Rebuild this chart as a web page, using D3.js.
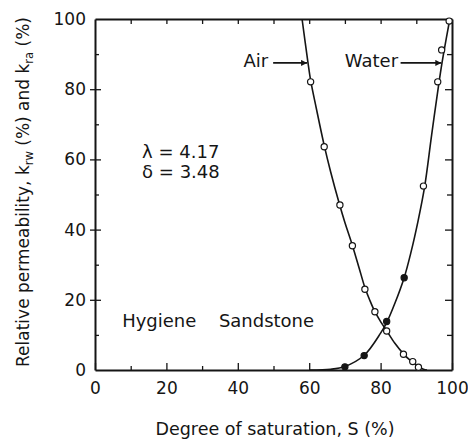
<!DOCTYPE html>
<html><head><meta charset="utf-8">
<script src="https://cdn.jsdelivr.net/npm/d3@7"></script>
<style>
html,body{margin:0;padding:0;background:#fff;}
svg{display:block;font-family:"DejaVu Sans",sans-serif;}
</style></head>
<body><svg id="c" width="468" height="441"></svg>
<script>
// ---- data ----
const xTicks = [0, 20, 40, 60, 80, 100];
const yTicks = [0, 20, 40, 60, 80, 100];
const minorTicks = [10, 30, 50, 70, 90];

// fitted curve (air, k_ra)
const airLineS = [58.0, 59.6, 60.4, 62.0, 64.2, 66.0, 68.4, 70.0, 72.1, 74.0, 75.6, 77.0, 78.4, 80.0, 81.7, 84.0, 86.4, 88.0, 89.0, 90.6, 92.0, 93.0];
const airLineK = [100, 88.0, 82.5, 74.5, 64.0, 56.5, 47.5, 42.0, 35.5, 29.0, 23.5, 19.8, 16.6, 13.8, 11.2, 7.6, 4.6, 3.0, 2.3, 1.0, 0.2, 0.0];
// fitted curve (water, k_rw)
const waterLineS = [60.0, 66.0, 70.0, 75.4, 80.0, 81.7, 84.0, 86.6, 88.5, 90.5, 92.3, 94.3, 96.3, 97.2, 98.4, 99.4];
const waterLineK = [0.0, 0.2, 1.0, 4.2, 10.5, 13.5, 19.0, 26.3, 33.5, 42.5, 52.0, 67.0, 81.5, 87.5, 94.5, 100];

// measured points
const airPtS = [60.4, 64.2, 68.6, 72.1, 75.6, 78.4, 81.7, 86.4, 89.0, 90.6];
const airPtK = [82.1, 63.6, 47.0, 35.4, 23.0, 16.6, 11.1, 4.5, 2.4, 0.8];
const waterOpenS = [92.0, 96.0, 97.1, 99.2];
const waterOpenK = [52.4, 82.1, 91.2, 99.4];
const waterFilledS = [70.0, 75.4, 81.7, 86.6];
const waterFilledK = [0.9, 4.1, 13.8, 26.3];

// ---- drawing ----
const W = 468, H = 441;
const m = {left: 95, right: 16, top: 19, bottom: 71};
const ink = "#151515";
const svg = d3.select("#c");
const x = d3.scaleLinear().domain([0, 100]).range([m.left, W - m.right]);
const y = d3.scaleLinear().domain([0, 100]).range([H - m.bottom, m.top]);

const g = svg.append("g");

function styleAxis(sel) {
  sel.selectAll("path").attr("stroke", ink).attr("stroke-width", 2);
  sel.selectAll("line").attr("stroke", ink).attr("stroke-width", 1.3);
  sel.selectAll("text").attr("fill", ink);
}

// bottom axis: frame + inward ticks
g.append("g").attr("transform", `translate(0,${y(0)})`)
  .call(d3.axisTop(x).tickValues(xTicks).tickSize(7).tickSizeOuter(0).tickFormat(""))
  .call(styleAxis);
g.append("g").attr("transform", `translate(0,${y(0)})`)
  .call(d3.axisTop(x).tickValues(minorTicks).tickSize(4).tickSizeOuter(0).tickFormat(""))
  .call(s => s.select("path").remove()).call(styleAxis);
g.append("g").attr("transform", `translate(0,${y(0)})`)
  .call(d3.axisBottom(x).tickValues(xTicks).tickSize(0).tickPadding(12))
  .call(s => s.select("path").remove())
  .call(s => s.selectAll("text").attr("font-size", 17).attr("font-family", "DejaVu Sans").attr("fill", ink));

// top axis
g.append("g").attr("transform", `translate(0,${y(100)})`)
  .call(d3.axisBottom(x).tickValues(d3.range(10, 100, 10)).tickSize(5).tickSizeOuter(0).tickFormat(""))
  .call(styleAxis);

// left axis
g.append("g").attr("transform", `translate(${x(0)},0)`)
  .call(d3.axisRight(y).tickValues(yTicks.slice(1, -1)).tickSize(6).tickSizeOuter(0).tickFormat(""))
  .call(styleAxis);
g.append("g").attr("transform", `translate(${x(0)},0)`)
  .call(d3.axisLeft(y).tickValues(yTicks.slice(1, -1)).tickSize(5).tickSizeOuter(0).tickFormat(""))
  .call(s => s.select("path").remove()).call(styleAxis);
g.append("g").attr("transform", `translate(${x(0)},0)`)
  .call(d3.axisRight(y).tickValues(minorTicks).tickSize(4).tickSizeOuter(0).tickFormat(""))
  .call(s => s.select("path").remove()).call(styleAxis);
g.append("g").attr("transform", `translate(${x(0)},0)`)
  .call(d3.axisLeft(y).tickValues(yTicks).tickSize(0).tickPadding(9))
  .call(s => s.select("path").remove())
  .call(s => s.selectAll("text").attr("font-size", 17).attr("font-family", "DejaVu Sans").attr("fill", ink));

// right axis
g.append("g").attr("transform", `translate(${x(100)},0)`)
  .call(d3.axisLeft(y).tickValues(yTicks.slice(1, -1)).tickSize(7).tickSizeOuter(0).tickFormat(""))
  .call(styleAxis);
g.append("g").attr("transform", `translate(${x(100)},0)`)
  .call(d3.axisLeft(y).tickValues(minorTicks).tickSize(5).tickSizeOuter(0).tickFormat(""))
  .call(s => s.select("path").remove()).call(styleAxis);

// curves
const line = d3.line().x(d => x(d[0])).y(d => y(d[1])).curve(d3.curveCatmullRom.alpha(0.5));
g.append("path").datum(d3.zip(airLineS, airLineK))
  .attr("d", line).attr("fill", "none").attr("stroke", ink).attr("stroke-width", 1.6);
g.append("path").datum(d3.zip(waterLineS, waterLineK))
  .attr("d", line).attr("fill", "none").attr("stroke", ink).attr("stroke-width", 1.6);

// markers
function dots(S, K, fill) {
  g.append("g").selectAll("circle").data(d3.zip(S, K)).join("circle")
    .attr("cx", d => x(d[0])).attr("cy", d => y(d[1])).attr("r", 3.1)
    .attr("fill", fill).attr("stroke", ink).attr("stroke-width", 1.2);
}
dots(airPtS, airPtK, "#fff");
dots(waterOpenS, waterOpenK, "#fff");
dots(waterFilledS, waterFilledK, ink);

// arrows
svg.append("defs").append("marker").attr("id", "ah")
  .attr("viewBox", "0 0 10 10").attr("refX", 10).attr("refY", 5)
  .attr("markerWidth", 9).attr("markerHeight", 6).attr("markerUnits", "userSpaceOnUse")
  .attr("orient", "auto")
  .append("path").attr("d", "M0,0 L10,5 L0,10 Z").attr("fill", ink);

function arrow(s0, s1, k) {
  g.append("line").attr("x1", x(s0)).attr("x2", x(s1)).attr("y1", y(k)).attr("y2", y(k))
    .attr("stroke", ink).attr("stroke-width", 1.6).attr("marker-end", "url(#ah)");
}
arrow(49.9, 59.4, 87.5);
arrow(85.6, 97.0, 87.5);

const txt = (s, k, t, anchor = "start", size = 16) =>
  g.append("text").attr("x", x(s)).attr("y", y(k)).attr("text-anchor", anchor)
    .attr("font-size", size).attr("fill", ink).text(t);

txt(48.5, 86.3, "Air", "end", 18);
txt(84.9, 86.3, "Water", "end", 18);
txt(13.2, 60.4, "λ = 4.17", "start", 18);
txt(13.2, 54.7, "δ = 3.48", "start", 18);
txt(7.6, 12.3, "Hygiene", "start", 18);
txt(34.7, 12.3, "Sandstone", "start", 18);

// axis titles
g.append("text").attr("x", 275).attr("y", 435)
  .attr("text-anchor", "middle").attr("font-size", 17.5).attr("fill", ink)
  .text("Degree of saturation, S (%)");

const yl = g.append("text").attr("transform", `translate(29,192) rotate(-90)`)
  .attr("text-anchor", "middle").attr("font-size", 17).attr("fill", ink);
yl.append("tspan").text("Relative permeability, k");
yl.append("tspan").attr("font-size", 11.5).attr("dy", 4).text("rw");
yl.append("tspan").attr("dy", -4).text(" (%) and k");
yl.append("tspan").attr("font-size", 11.5).attr("dy", 4).text("ra");
yl.append("tspan").attr("dy", -4).text(" (%)");
</script></body></html>
